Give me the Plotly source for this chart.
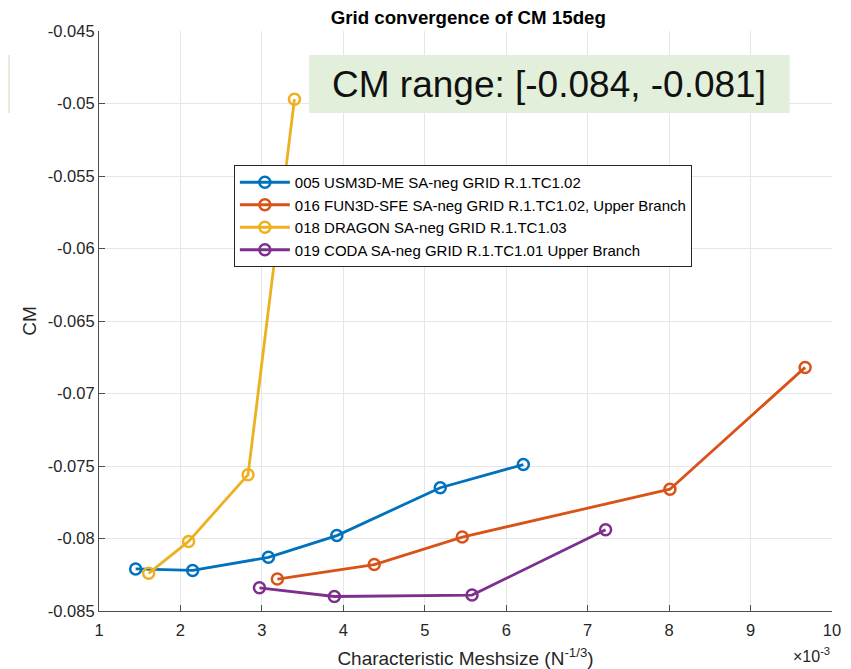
import plotly.graph_objects as go

# Characteristic meshsize in units of 1e-3 (axis shows x10^-3)
usm3d_x = [1.45, 2.15, 3.08, 3.92, 5.19, 6.21]
usm3d_cm = [-0.0821, -0.0822, -0.0813, -0.0798, -0.0765, -0.0749]

fun3d_x = [3.19, 4.38, 5.46, 8.01, 9.67]
fun3d_cm = [-0.0828, -0.0818, -0.0799, -0.0766, -0.0682]

dragon_x = [1.61, 2.10, 2.83, 3.40]
dragon_cm = [-0.0824, -0.0802, -0.0756, -0.0497]

coda_x = [2.97, 3.89, 5.58, 7.22]
coda_cm = [-0.0834, -0.0840, -0.0839, -0.0794]

series = [
    ("005 USM3D-ME SA-neg GRID R.1.TC1.02", usm3d_x, usm3d_cm, "#0072BD"),
    ("016 FUN3D-SFE SA-neg GRID R.1.TC1.02, Upper Branch", fun3d_x, fun3d_cm, "#D95319"),
    ("018 DRAGON SA-neg GRID R.1.TC1.03", dragon_x, dragon_cm, "#EDB120"),
    ("019 CODA SA-neg GRID R.1.TC1.01 Upper Branch", coda_x, coda_cm, "#7E2F8E"),
]

x_ticks = [1, 2, 3, 4, 5, 6, 7, 8, 9, 10]
y_ticks = [-0.085, -0.08, -0.075, -0.07, -0.065, -0.06, -0.055, -0.05, -0.045]
y_labels = ["-0.085", "-0.08", "-0.075", "-0.07", "-0.065", "-0.06", "-0.055", "-0.05", "-0.045"]

FONT = "Liberation Sans, Arial, sans-serif"
TXT = "#262626"
AXC = "#4d4d4d"

fig = go.Figure()
for name, xs, ys, color in series:
    fig.add_trace(go.Scatter(
        x=xs, y=ys, name=name, mode="lines+markers",
        line=dict(color=color, width=2.8),
        marker=dict(symbol="circle-open", size=11, color=color, line=dict(width=2.5, color=color)),
    ))

# -------------------------------
# CM range callout box
# -------------------------------
fig.add_shape(type="rect", xref="x", yref="y", x0=3.58, x1=9.48, y0=-0.05066, y1=-0.04666,
              fillcolor="#e2efda", line=dict(width=0), layer="above")
fig.add_annotation(x=6.53, y=-0.04866, xref="x", yref="y", text="CM range: [-0.084, -0.081]",
                   showarrow=False, font=dict(family=FONT, size=37, color="#111111"))
# sliver of a second box at the left edge of the page
fig.add_shape(type="rect", xref="paper", yref="y", x0=-91 / 733, x1=-89 / 733, y0=-0.05066, y1=-0.04666,
              fillcolor="#e2efda", line=dict(width=0))

fig.add_annotation(x=1, y=0, xref="paper", yref="paper", xanchor="right", yanchor="middle", yshift=-44,
                   text="×10<sup>-3</sup>", showarrow=False, font=dict(family=FONT, size=16, color=TXT))

# page body has an 8px margin, so the figure is shrunk by that amount
fig.update_layout(
    width=843, height=661,
    margin=dict(l=91, r=19, t=23, b=58),
    paper_bgcolor="white", plot_bgcolor="white",
    font=dict(family=FONT, size=16, color=TXT),
    title=dict(text="<b>Grid convergence of CM 15deg</b>", x=0.546, xanchor="center", y=0.985, yanchor="middle",
               font=dict(family=FONT, size=18.7, color="#000000")),
    legend=dict(x=0.184, y=0.769, xanchor="left", yanchor="top", bgcolor="white",
                bordercolor="#262626", borderwidth=1, font=dict(family=FONT, size=15, color="#000000"),
                tracegroupgap=0, itemwidth=50),
    showlegend=True,
)
fig.update_xaxes(range=[1, 10], tickvals=x_ticks, ticks="inside", ticklen=6, tickcolor=AXC,
                 showline=True, linecolor=AXC, linewidth=1.2, showgrid=True, gridcolor="#e6e6e6",
                 zeroline=False, ticklabelstandoff=4, automargin=False,
                 title=dict(text="Characteristic Meshsize (N<sup>-1/3</sup>)", standoff=16),
                 tickfont=dict(size=16.5))
fig.update_yaxes(range=[-0.085, -0.045], tickvals=y_ticks, ticktext=y_labels, ticks="inside", ticklen=6,
                 tickcolor=AXC, showline=True, linecolor=AXC, linewidth=1.2, showgrid=True,
                 gridcolor="#e6e6e6", zeroline=False, automargin=False, title=dict(text="CM", standoff=6),
                 tickfont=dict(size=16.5))

fig.write_html("out.html")
